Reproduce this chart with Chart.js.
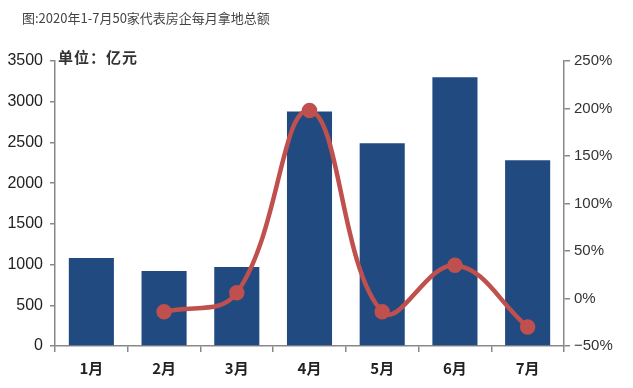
<!DOCTYPE html>
<html>
<head>
<meta charset="utf-8">
<script src="https://cdn.jsdelivr.net/npm/chart.js@4/dist/chart.umd.min.js"></script>
<style>
html,body{margin:0;padding:0;background:#fff;}
#wrap{position:relative;width:633px;height:388px;}
#title{position:absolute;left:22px;top:8px;font:13px "Noto Sans CJK SC","Noto Sans",sans-serif;color:#444;white-space:nowrap;}
#unit{position:absolute;left:58px;top:46px;font:bold 15px "Noto Sans CJK SC",sans-serif;color:#333;white-space:nowrap;letter-spacing:1px;}
canvas{position:absolute;left:0;top:0;}
</style>
</head>
<body>
<div id="wrap">
<canvas id="c" width="633" height="388"></canvas>
<div id="title">图:2020年1-7月50家代表房企每月拿地总额</div>
<div id="unit">单位：亿元</div>
</div>
<script>
const categories = ['1月','2月','3月','4月','5月','6月','7月'];
const landAmount = [1080, 920, 970, 2880, 2490, 3300, 2280];
const growthPct = [null, -14, 6, 198, -14, 35, -30];
const leftTicks = [0, 500, 1000, 1500, 2000, 2500, 3000, 3500];
const rightTicks = [-50, 0, 50, 100, 150, 200, 250];

new Chart(document.getElementById('c'), {
  data: {
    labels: categories,
    datasets: [
      {type: 'line', data: growthPct, yAxisID: 'y2', borderColor: '#c0504d', backgroundColor: '#c0504d',
       borderWidth: 4.5, pointRadius: 5.5, pointHoverRadius: 5.5, tension: 0.4, order: 0, spanGaps: false},
      {type: 'bar', data: landAmount, yAxisID: 'y', backgroundColor: '#204a80', categoryPercentage: 0.62, barPercentage: 1, order: 1}
    ]
  },
  options: {
    responsive: false, animation: false,
    layout: {padding: {top: 61, bottom: 0, left: 0, right: 0}},
    plugins: {legend: {display: false}, tooltip: {enabled: false}},
    scales: {
      x: {
        offset: true,
        grid: {offset: true, drawOnChartArea: false, drawTicks: true, tickLength: 6, color: '#888', lineWidth: 1.5},
        border: {color: '#888', width: 1.5},
        ticks: {color: '#222', padding: 7, font: {family: '"Noto Sans CJK SC", sans-serif', size: 15, weight: 'bold'}},
        afterFit: s => { s.height = 42; }
      },
      y: {
        position: 'left', min: 0, max: 3500,
        afterBuildTicks: s => { s.ticks = leftTicks.map(v => ({value: v})); },
        grid: {drawOnChartArea: false, drawTicks: true, tickLength: 5, color: '#888', lineWidth: 1.5},
        border: {color: '#888', width: 1.5},
        ticks: {color: '#222', padding: 7, font: {family: '"Liberation Sans", Arial, sans-serif', size: 16},
                callback: v => String(v)},
        afterFit: s => { s.width = 55; }
      },
      y2: {
        position: 'right', min: -50, max: 250,
        afterBuildTicks: s => { s.ticks = rightTicks.map(v => ({value: v})); },
        grid: {drawOnChartArea: false, drawTicks: true, tickLength: 6, color: '#888', lineWidth: 1.5},
        border: {color: '#888', width: 1.5},
        ticks: {color: '#333', padding: 4, font: {family: '"Liberation Sans", Arial, sans-serif', size: 15},
                callback: v => (v < 0 ? '−' + Math.abs(v) : v) + '%'},
        afterFit: s => { s.width = 69; }
      }
    }
  }
});
</script>
</body>
</html>
